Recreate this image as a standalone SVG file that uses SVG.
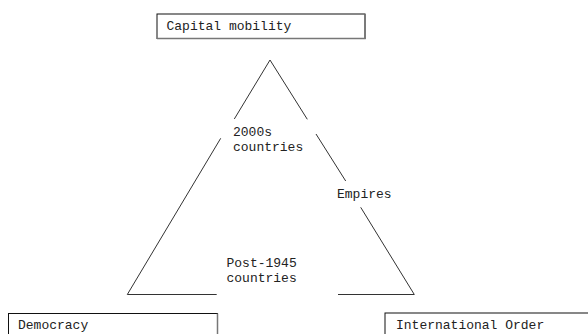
<svg xmlns="http://www.w3.org/2000/svg" width="588" height="334" viewBox="0 0 588 334">
<style>
.t{font-family:"Liberation Mono","Courier New",monospace;font-size:13px;fill:#222}
.box{fill:#fff;stroke:#111;stroke-width:1}
.sh{stroke:#777;stroke-width:1.5;fill:none}
.c{stroke:#333;stroke-width:1;fill:none}
</style>
<rect width="588" height="334" fill="#fff"/>
<g id="connectors">
<polyline class="c" points="234.3,119 270,60 307.3,119.3"/>
<line class="c" x1="220.7" y1="138.3" x2="127.3" y2="294.5"/>
<line class="c" x1="316" y1="134" x2="345.7" y2="181"/>
<line class="c" x1="360.7" y1="207.3" x2="414.3" y2="294.5"/>
<line class="c" x1="127.3" y1="294.5" x2="216.7" y2="294.5"/>
<line class="c" x1="338" y1="294.5" x2="414.3" y2="294.5"/>
</g>
<g id="capital">
<rect class="box" x="157" y="14" width="208" height="24.5"/>
<polyline class="sh" points="365,14 365,38.5 157,38.5"/>
<text class="t" x="166.5" y="29.5">Capital mobility</text>
</g>
<g id="democracy">
<rect class="box" x="8.5" y="313.5" width="209" height="30"/>
<polyline class="sh" points="217.5,313.5 217.5,340"/>
<text class="t" x="18" y="328.5">Democracy</text>
</g>
<g id="intl">
<rect class="box" x="385" y="313" width="210" height="30"/>
<text class="t" x="396" y="328.5">International Order</text>
</g>
<g id="c2000">
<text class="t" x="233" y="136">2000s</text>
<text class="t" x="233" y="151">countries</text>
</g>
<g id="empires">
<text class="t" x="337" y="198">Empires</text>
</g>
<g id="post1945">
<text class="t" x="226.5" y="267">Post-1945</text>
<text class="t" x="226.5" y="282">countries</text>
</g>
</svg>
